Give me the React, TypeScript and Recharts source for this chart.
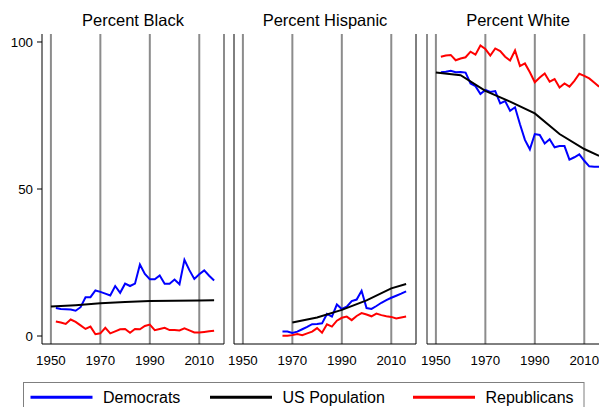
import { LineChart, Line, XAxis, YAxis, ReferenceLine } from "recharts";

const FONT = "'Liberation Sans', Arial, sans-serif";

const electionYears = [
  1952, 1954, 1956, 1958, 1960, 1962, 1964, 1966, 1968, 1970, 1972, 1974, 1976,
  1978, 1980, 1982, 1984, 1986, 1988, 1990, 1992, 1994, 1996, 1998, 2000, 2002,
  2004, 2006, 2008, 2010, 2012, 2014, 2016,
];
const hispanicYears = [
  1966, 1968, 1970, 1972, 1974, 1976, 1978, 1980, 1982, 1984, 1986, 1988, 1990,
  1992, 1994, 1996, 1998, 2000, 2002, 2004, 2006, 2008, 2010, 2012, 2014, 2016,
];
const censusYears = [1950, 1960, 1970, 1980, 1990, 2000, 2010, 2016];
const censusYearsHispanic = [1970, 1980, 1990, 2000, 2010, 2016];

// Percent Black
const demBlack = [
  9.5, 9.2, 9.1, 9.0, 8.6, 9.8, 13.2, 13.2, 15.5, 15.0, 14.4, 13.8, 17.0, 14.7,
  17.8, 17.0, 17.8, 24.3, 21.1, 19.3, 19.3, 20.6, 17.8, 17.8, 19.2, 17.6, 25.9,
  22.4, 19.4, 21.0, 22.3, 20.5, 18.9,
];
const repBlack = [
  4.9, 4.6, 4.1, 5.6, 4.8, 3.6, 2.4, 3.2, 0.6, 0.9, 2.8, 0.9, 1.6, 2.3, 2.4, 1.1,
  2.4, 2.3, 3.4, 3.9, 2.0, 2.4, 2.8, 2.0, 2.0, 1.9, 2.6, 1.9, 1.2, 1.2, 1.4, 1.6,
  1.8,
];
const popBlack = [10.0, 10.5, 11.1, 11.6, 11.9, 12.0, 12.1, 12.2];

// Percent Hispanic
const demHispanic = [
  1.5, 1.5, 1.0, 1.5, 2.3, 3.1, 4.0, 4.1, 4.3, 7.5, 6.6, 10.7, 9.2, 10.0, 11.9,
  12.4, 15.4, 9.5, 9.2, 10.2, 11.3, 12.2, 13.0, 13.7, 14.4, 15.2,
];
const repHispanic = [
  0.1, 0.1, 0.3, 0.7, 0.3, 0.9, 1.5, 2.7, 1.1, 4.0, 3.2, 5.2, 6.2, 6.6, 5.4, 6.8,
  7.8, 7.3, 6.7, 7.6, 7.1, 6.7, 6.5, 6.0, 6.3, 6.6,
];
const popHispanic = [4.6, 6.3, 8.9, 12.1, 16.2, 17.7];

// Percent White
const demWhite = [
  89.7, 89.9, 90.2, 89.7, 89.8, 89.6, 85.9, 85.0, 82.3, 83.7, 83.0, 83.3, 79.1,
  79.9, 76.6, 77.8, 72.0, 66.7, 63.5, 68.7, 68.4, 65.5, 66.9, 64.2, 64.6, 64.6,
  60.0, 60.8, 61.8, 59.6, 57.7, 57.6, 57.6,
];
const repWhite = [
  95.0, 95.4, 95.6, 93.8, 94.4, 94.8, 96.7, 95.7, 98.8, 97.6, 95.4, 97.8, 96.9,
  95.0, 93.7, 97.1, 91.8, 92.7, 89.7, 86.3, 87.9, 89.3, 86.5, 87.4, 84.5, 85.9,
  84.8, 86.8, 89.2, 88.5, 87.6, 86.2, 84.8,
];
const popWhite = [89.6, 88.7, 83.4, 79.7, 75.7, 68.7, 63.6, 61.3];

const xTicks = [1950, 1970, 1990, 2010];
const yTicks = [0, 50, 100];
const xDomain: [number, number] = [1946.4, 2020];
const yDomain: [number, number] = [-2.72, 102.72];

const seriesNames = ["Democrats", "US Population", "Republicans"];
const seriesColors = ["#0000ff", "#000000", "#ff0000"];

const toPoints = (years: number[], values: number[]) =>
  years.map((year, i) => ({ year, v: values[i] }));

type Panel = {
  title: string;
  left: number;
  center: number;
  dem: { year: number; v: number }[];
  pop: { year: number; v: number }[];
  rep: { year: number; v: number }[];
  edges: { x: number; color: string; width: number }[];
  showY: boolean;
};

const GRID = "#8c8c8c";

const panels: Panel[] = [
  {
    title: "Percent Black",
    left: 0,
    center: 133,
    dem: toPoints(electionYears, demBlack),
    pop: toPoints(censusYears, popBlack),
    rep: toPoints(electionYears, repBlack),
    edges: [{ x: 2020, color: GRID, width: 2 }],
    showY: true,
  },
  {
    title: "Percent Hispanic",
    left: 214,
    center: 325,
    dem: toPoints(hispanicYears, demHispanic),
    pop: toPoints(censusYearsHispanic, popHispanic),
    rep: toPoints(hispanicYears, repHispanic),
    edges: [
      { x: 1946.4, color: "#000", width: 1 },
      { x: 2020, color: "#000", width: 1 },
    ],
    showY: false,
  },
  {
    title: "Percent White",
    left: 407,
    center: 518,
    dem: toPoints(electionYears, demWhite),
    pop: toPoints(censusYears, popWhite),
    rep: toPoints(electionYears, repWhite),
    edges: [{ x: 1946.4, color: GRID, width: 2 }],
    showY: false,
  },
];

const PanelChart = ({ p }: { p: Panel }) => (
  <div style={{ position: "absolute", left: p.left, top: 0 }}>
    <LineChart
      width={p.showY ? 228 : 206}
      height={380}
      margin={{ top: 34, right: 4, bottom: 0, left: p.showY ? 0 : 20 }}
    >
      <XAxis
        type="number"
        dataKey="year"
        domain={xDomain}
        ticks={xTicks}
        interval={0}
        allowDataOverflow
        height={36}
        axisLine={{ stroke: "#000", strokeWidth: 1 }}
        tickLine={false}
        tickSize={6}
        tickMargin={6}
        tick={{ fontSize: 13.3, fill: "#000", fontFamily: FONT }}
      />
      <YAxis
        type="number"
        domain={yDomain}
        ticks={yTicks}
        interval={0}
        allowDataOverflow
        hide={!p.showY}
        width={42}
        axisLine={{ stroke: "#000", strokeWidth: 1 }}
        tickLine={{ stroke: "#000" }}
        tickSize={5}
        tickMargin={4}
        tick={{ fontSize: 13.3, fill: "#000", fontFamily: FONT }}
      />
      {xTicks.map((x) => (
        <ReferenceLine key={x} x={x} stroke={GRID} strokeWidth={2} />
      ))}
      {p.edges.map((e) => (
        <ReferenceLine
          key={"e" + e.x}
          x={e.x}
          stroke={e.color}
          strokeWidth={e.width}
        />
      ))}
      <Line
        data={p.dem}
        dataKey="v"
        type="linear"
        stroke={seriesColors[0]}
        strokeWidth={2}
        dot={false}
        isAnimationActive={false}
      />
      <Line
        data={p.pop}
        dataKey="v"
        type="linear"
        stroke={seriesColors[1]}
        strokeWidth={2}
        dot={false}
        isAnimationActive={false}
      />
      <Line
        data={p.rep}
        dataKey="v"
        type="linear"
        stroke={seriesColors[2]}
        strokeWidth={2}
        dot={false}
        isAnimationActive={false}
      />
    </LineChart>
  </div>
);

const legendX = [30.5, 210, 413];

export default function App() {
  return (
    <div
      style={{
        position: "fixed",
        left: 0,
        top: 0,
        width: 599,
        height: 407,
        overflow: "hidden",
        background: "#fff",
        fontFamily: FONT,
      }}
    >
      {panels.map((p) => (
        <PanelChart key={p.title} p={p} />
      ))}
      <svg
        width={599}
        height={407}
        style={{ position: "absolute", left: 0, top: 0, pointerEvents: "none" }}
      >
        {panels.map((p) => (
          <text
            key={p.title}
            x={p.center}
            y={26}
            textAnchor="middle"
            fontSize={16.5}
            fontFamily={FONT}
            fill="#000"
          >
            {p.title}
          </text>
        ))}
        <rect
          x={23.5}
          y={382.5}
          width={560.5}
          height={40}
          fill="none"
          stroke="#7f7f7f"
          strokeWidth={1}
        />
        {seriesNames.map((name, i) => (
          <g key={name}>
            <line
              x1={legendX[i]}
              x2={legendX[i] + 62}
              y1={397.3}
              y2={397.3}
              stroke={seriesColors[i]}
              strokeWidth={3}
            />
            <text
              x={legendX[i] + 72.5}
              y={403.3}
              fontSize={16}
              fontFamily={FONT}
              fill="#000"
            >
              {name}
            </text>
          </g>
        ))}
      </svg>
    </div>
  );
}
